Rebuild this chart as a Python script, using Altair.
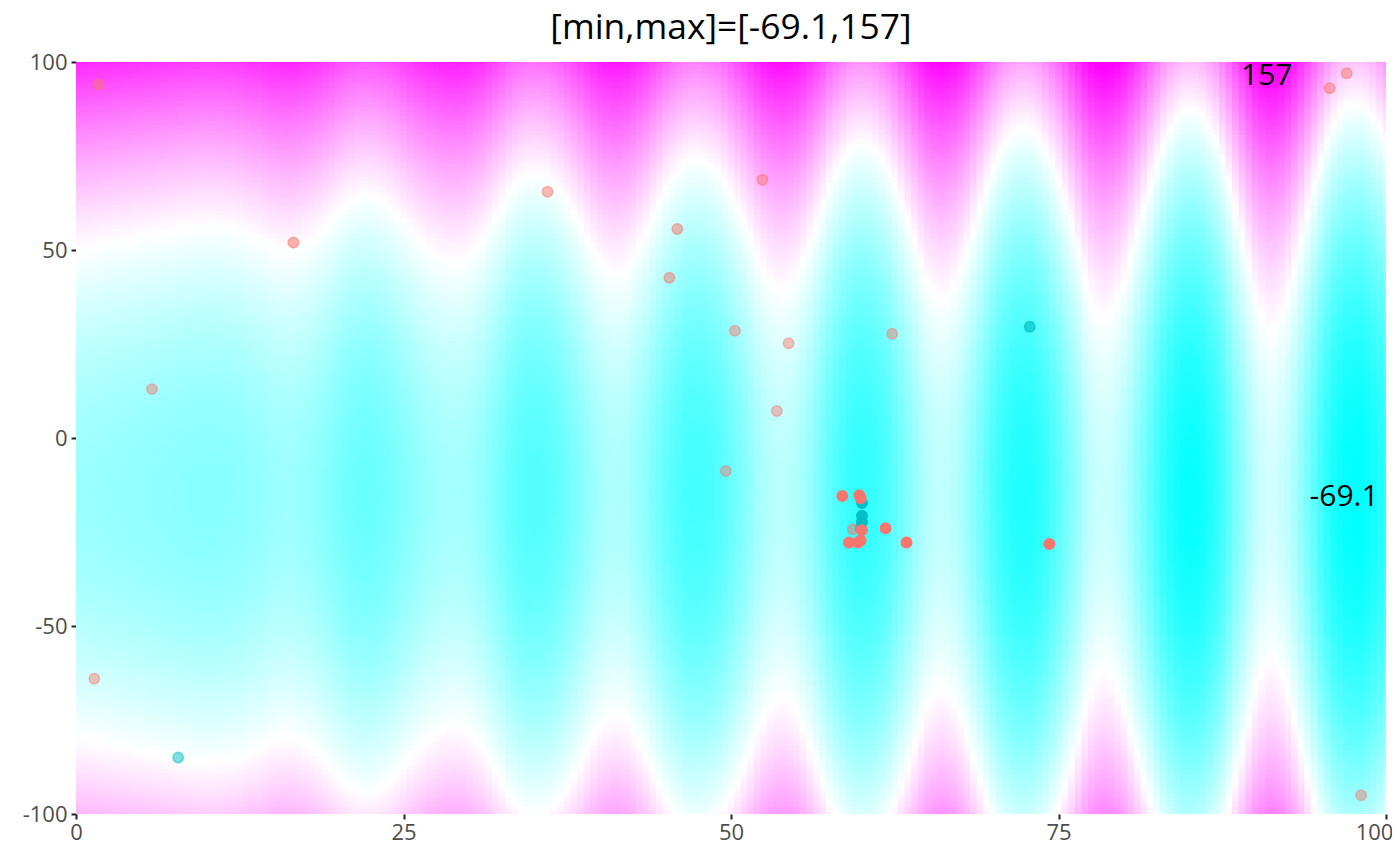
import altair as alt
import pandas as pd

alt.data_transformers.disable_max_rows()

title_text = "[min,max]=[-69.1,157]"
min_v, mid_v, max_v = -69.1, 44, 157

col_x = [i * 0.5 for i in range(201)]
col_level = [
    0,-.5,-1,-1.5,-2,-2.5,-3,-3.5,-4,-4.5,
    -5,-5.5,-6,-6.5,-7,-7.5,-8,-8.5,-9,-9.2,
    -9.3,-9.3,-9,-8.6,-8,-7.2,-6,-5,-4,-2.5,
    -1,-.2,.2,-.2,-1,-2.3,-4,-6.3,-9,-12,
    -15,-18,-20,-21.5,-22,-21.8,-21,-19.3,-17,-14,
    -11,-8,-5,-2.3,0,1.7,3,3.8,4,3.4,
    2,-1,-4,-8.4,-13,-18,-23,-27,-30,-31.5,
    -32,-31.4,-30,-27.5,-24,-20,-15,-10,-5,0,
    4,6.5,8,7.6,6,2.5,-2,-7,-13,-19,
    -25,-30,-34,-37,-39,-39,-38,-36,-33,-28.5,
    -23,-17,-11,-4.5,2,7,11,12.6,13,11.6,
    9,3.5,-3,-10,-18,-26,-33,-39,-44,-46.5,
    -47,-46.2,-44,-39.5,-34,-27,-19,-11,-3,4.5,
    11,14.5,16,15,12,6.5,0,-8,-17,-26,
    -35,-43,-49,-53,-55,-55.3,-54,-50,-44,-37,
    -29,-20,-10,0,9,15.5,20,21,20,16,
    10,2,-7,-17,-27,-37,-47,-55,-61,-65,
    -66,-65,-62,-56.5,-49,-39,-28,-16,-5,5.5,
    15,20.5,24,23.5,20,14,6,-4,-15,-27,
    -38,-49,-58,-64,-68,-69,-69,-66.5,-62,-56,
    -48,
]

row_y = [-100 + 1.25 * i for i in range(161)]
row_level = [
    75.9,73.6,71.5,69.3,67.2,65.1,63.1,61,59.1,57.1,55.2,53.3,51.5,49.6,47.8,46.1,44.4,42.7,41,39.4,
    37.8,36.2,34.7,33.2,31.8,30.3,28.9,27.6,26.3,25,23.7,22.5,21.3,20.1,19,17.9,16.8,15.8,14.8,13.8,
    12.9,12,11.1,10.3,9.5,8.7,7.9,7.2,6.6,5.9,5.3,4.7,4.2,3.7,3.2,2.8,2.4,2,1.6,1.3,1.1,.8,.6,.4,.3,.1,.1,0,0,
    0,.1,.1,.3,.4,.6,.8,1.1,1.3,1.6,2,2.4,2.8,3.2,3.7,4.2,4.7,5.3,5.9,6.6,7.2,7.9,8.7,9.5,10.3,11.1,12,
    12.9,13.8,14.8,15.8,16.8,17.9,19,20.1,21.3,22.5,23.7,25,26.3,27.6,28.9,30.3,31.8,33.2,34.7,36.2,37.8,39.4,
    41,42.7,44.4,46.1,47.8,49.6,51.5,53.3,55.2,57.1,59.1,61,63.1,65.1,67.2,69.3,71.5,73.6,75.9,78.1,80.4,82.7,
    85.1,87.4,89.8,92.3,94.8,97.3,99.8,102.4,105,107.6,110.3,113,115.8,118.5,121.3,124.2,127,130,132.9,135.9,138.9,
]

warm_x = [1.7,5.8,1.4,16.6,36,45.3,45.9,49.6,50.3,52.4,53.5,54.4,62.3,95.7,97,98.1,59.3,58.5,59.8,59.9,61.8,63.4,74.3,59,59.7,59.9,60]
warm_y = [94,13,-64,52,65.5,42.6,55.6,-8.8,28.5,68.7,7.2,25.2,27.7,93,97,-95,-24.3,-15.4,-15.2,-16,-24,-27.8,-28.2,-27.8,-27.8,-27.2,-24.5]
warm_a = [.5,.45,.45,.55,.5,.5,.5,.45,.45,.5,.45,.45,.45,.5,.5,.45,.5,1,1,1,1,1,1,1,1,1,1]
cool_x = [7.8,72.8,60,60,60,59.9]
cool_y = [-85,29.6,-17.3,-20.7,-22.3,-24]
cool_a = [.5,.65,.95,.95,.95,.95]

label_x = [90.9, 96.8]
label_y = [96.3, -15.7]
label_t = ["157", "-69.1"]

cells = []
for i, cx in enumerate(col_x):
    for j, cy in enumerate(row_y):
        cells.append({
            "x0": max(0, cx - 0.25), "x1": min(100, cx + 0.33),
            "y0": max(-100, cy - 0.625), "y1": min(100, cy + 0.85),
            "v": round(col_level[i] + row_level[j], 1),
        })
cells = pd.DataFrame(cells)

xs = alt.Scale(domain=[0, 100], nice=False, zero=False)
ys = alt.Scale(domain=[-100, 100], nice=False, zero=False)
hyphen = "replace(datum.label, '\u2212', '-')"
x_axis = alt.Axis(values=[0, 25, 50, 75, 100], title=None, grid=False, domain=False,
                  tickColor="#222222", tickWidth=2, tickSize=5, labelColor="#4D4D4D",
                  labelFontSize=22, labelFont="Open Sans", labelPadding=3, labelOverlap=False, labelFlush=False,
                  labelOffset=alt.expr("datum.value == 100 ? -12 : 0"))
y_axis = alt.Axis(values=[-100, -50, 0, 50, 100], title=None, grid=False, domain=False,
                  tickColor="#222222", tickWidth=2, tickSize=5, labelColor="#4D4D4D",
                  labelFontSize=22, labelFont="Open Sans", labelPadding=4, labelExpr=hyphen)

heat = alt.Chart(cells).mark_rect().encode(
    x=alt.X("x0:Q", scale=xs, axis=x_axis),
    x2="x1:Q",
    y=alt.Y("y0:Q", scale=ys, axis=y_axis),
    y2="y1:Q",
    color=alt.Color("v:Q", legend=None, scale=alt.Scale(
        domain=[min_v, mid_v, max_v], range=["#00FFFF", "#FFFFFF", "#FF00FF"],
        interpolate="rgb", clamp=True)),
)

cool = pd.DataFrame({"x": cool_x, "y": cool_y, "a": cool_a})
warm = pd.DataFrame({"x": warm_x, "y": warm_y, "a": warm_a})

def pts(df, colour):
    return alt.Chart(df).mark_circle(size=110, color=colour, stroke=colour, strokeWidth=1.5, opacity=1).encode(
        x=alt.X("x:Q", scale=xs), y=alt.Y("y:Q", scale=ys),
        fillOpacity=alt.FillOpacity("a:Q", legend=None, scale=None),
        strokeOpacity=alt.StrokeOpacity("a:Q", legend=None, scale=None),
    )

labels = alt.Chart(pd.DataFrame({"x": label_x, "y": label_y, "t": label_t})).mark_text(
    font="Open Sans", fontSize=30, color="black"
).encode(x=alt.X("x:Q", scale=xs), y=alt.Y("y:Q", scale=ys), text="t:N")

chart = alt.layer(heat, pts(cool, "#00BFC4"), pts(warm, "#F8766D"), labels).properties(
    width=1310, height=752,
    padding={"left": 68, "top": 54, "right": 6, "bottom": 36},
    autosize=alt.AutoSizeParams(type="none"),
    title=alt.TitleParams(title_text, font="Open Sans", fontSize=35.4, fontWeight="normal",
                          color="black", anchor="middle", offset=5),
).configure_view(stroke=None)

chart.save("out.html", embed_options={"renderer": "svg", "actions": False})
